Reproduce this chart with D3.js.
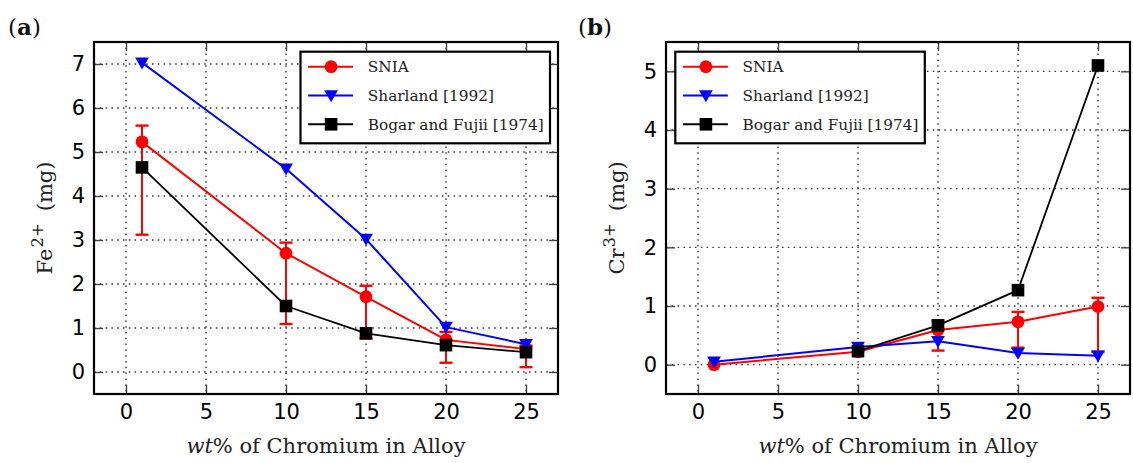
<!DOCTYPE html>
<html>
<head>
<meta charset="utf-8">
<script src="https://cdn.jsdelivr.net/npm/d3@7"></script>
<style>
  html, body { margin: 0; padding: 0; background: #fff; }
  svg { display: block; }
</style>
</head>
<body>
<svg id="chart" width="1133" height="463"></svg>
<script>
// Chromium content of the alloys (wt%)
const chromium = [1, 10, 15, 20, 25];
const xTicks = [0, 5, 10, 15, 20, 25];

// Panel (a): dissolved Fe2+ (mg)
const feTicks = [0, 1, 2, 3, 4, 5, 6, 7];
const feSNIA = [5.23, 2.70, 1.71, 0.73, 0.52];
const feSNIAHigh = [5.60, 2.94, 1.96, 0.91, 0.60];
const feSNIALow = [3.12, 1.09, 0.76, 0.21, 0.11];
const feSharland = [7.03, 4.62, 3.02, 1.02, 0.63];
const feBogar = [4.65, 1.50, 0.88, 0.61, 0.45];

// Panel (b): dissolved Cr3+ (mg)
const crTicks = [0, 1, 2, 3, 4, 5];
const crSNIA = [0.00, 0.22, 0.59, 0.73, 0.99];
const crSNIAHigh = [null, null, 0.75, 0.90, 1.14];
const crSNIALow = [null, null, 0.24, 0.29, 0.22];
const crSharland = [0.05, 0.30, 0.40, 0.20, 0.15];
const crBogar = [null, 0.23, 0.67, 1.27, 5.10];

const seriesNames = ["SNIA", "Sharland [1992]", "Bogar and Fujii [1974]"];
const seriesColors = ["#ff0000", "#0000ff", "#000000"];
const seriesMarkers = ["circle", "triangle", "square"];

const svg = d3.select("#chart");
const SERIF = "'DejaVu Serif', 'Liberation Serif', serif";
const SANS = "'DejaVu Sans', sans-serif";

function marker(sel, kind, color) {
  if (kind === "circle") {
    sel.append("circle").attr("r", 6.4).attr("fill", color);
  } else if (kind === "square") {
    sel.append("rect").attr("x", -6.3).attr("y", -6.3).attr("width", 12.6).attr("height", 12.6).attr("fill", color);
  } else {
    // downward-pointing triangle centred on the point
    sel.append("path").attr("d", "M-6.9,-5.3 L6.9,-5.3 L0,6.7 Z").attr("fill", color);
  }
}

function drawPanel(p) {
  const g = svg.append("g");
  const x = d3.scaleLinear().domain([-2, 27]).range([p.left, p.right]);
  const y = d3.scaleLinear().domain(p.yDomain).range([p.bottom, p.top]);

  // dotted grid
  g.append("g").selectAll("line").data(xTicks).join("line")
    .attr("x1", d => x(d)).attr("x2", d => x(d))
    .attr("y1", p.top).attr("y2", p.bottom)
    .attr("stroke", "#333").attr("stroke-width", 1.4).attr("stroke-dasharray", "1.5,4.3");
  g.append("g").selectAll("line").data(p.yTicks).join("line")
    .attr("x1", p.left).attr("x2", p.right)
    .attr("y1", d => y(d)).attr("y2", d => y(d))
    .attr("stroke", "#333").attr("stroke-width", 1.4).attr("stroke-dasharray", "1.5,4.3");

  // axes with inward ticks on all four sides
  const tickLen = 9;
  const styleAxis = a => {
    a.select(".domain").remove();
    a.selectAll(".tick line").attr("stroke", "#444").attr("stroke-width", 1.4);
    a.selectAll(".tick text").attr("font-family", SANS).attr("font-size", 21).attr("fill", "#000");
  };
  g.append("g").attr("transform", `translate(0,${p.bottom})`)
    .call(d3.axisBottom(x).tickValues(xTicks).tickSize(-tickLen).tickPadding(10).tickFormat(d3.format("d")))
    .call(styleAxis);
  g.append("g").attr("transform", `translate(0,${p.top})`)
    .call(d3.axisTop(x).tickValues(xTicks).tickSize(-tickLen).tickFormat(""))
    .call(styleAxis);
  g.append("g").attr("transform", `translate(${p.left},0)`)
    .call(d3.axisLeft(y).tickValues(p.yTicks).tickSize(-tickLen).tickPadding(9).tickFormat(d3.format("d")))
    .call(styleAxis);
  g.append("g").attr("transform", `translate(${p.right},0)`)
    .call(d3.axisRight(y).tickValues(p.yTicks).tickSize(-tickLen).tickFormat(""))
    .call(styleAxis);

  // SNIA error bars
  const errIdx = chromium.map((c, i) => i).filter(i => p.high[i] != null);
  const eb = g.append("g").attr("stroke", seriesColors[0]).attr("stroke-width", 2);
  eb.selectAll("line.v").data(errIdx).join("line").attr("class", "v")
    .attr("x1", i => x(chromium[i])).attr("x2", i => x(chromium[i]))
    .attr("y1", i => y(p.low[i])).attr("y2", i => y(p.high[i]));
  eb.selectAll("line.hi").data(errIdx).join("line").attr("class", "hi")
    .attr("x1", i => x(chromium[i]) - 6.5).attr("x2", i => x(chromium[i]) + 6.5)
    .attr("y1", i => y(p.high[i])).attr("y2", i => y(p.high[i])).attr("stroke-width", 2.4);
  eb.selectAll("line.lo").data(errIdx).join("line").attr("class", "lo")
    .attr("x1", i => x(chromium[i]) - 6.5).attr("x2", i => x(chromium[i]) + 6.5)
    .attr("y1", i => y(p.low[i])).attr("y2", i => y(p.low[i])).attr("stroke-width", 2.4);

  // series lines and markers
  p.series.forEach((vals, s) => {
    const pts = chromium.map((c, i) => [c, vals[i]]).filter(d => d[1] != null);
    const line = d3.line().x(d => x(d[0])).y(d => y(d[1]));
    g.append("path").datum(pts).attr("d", line)
      .attr("fill", "none").attr("stroke", seriesColors[s])
      .attr("stroke-width", s === 2 ? 1.8 : 2).attr("stroke-linejoin", "round");
    g.append("g").selectAll("g").data(pts).join("g")
      .attr("transform", d => `translate(${x(d[0])},${y(d[1])})`)
      .each(function () { marker(d3.select(this), seriesMarkers[s], seriesColors[s]); });
  });

  // frame
  g.append("rect").attr("x", p.left).attr("y", p.top)
    .attr("width", p.right - p.left).attr("height", p.bottom - p.top)
    .attr("fill", "none").attr("stroke", "#000").attr("stroke-width", 2.2);

  // legend
  const lg = g.append("g").attr("transform", `translate(${p.legendX},${p.top + 9.7})`);
  lg.append("rect").attr("x", 0).attr("y", 0).attr("width", 249.5).attr("height", 91.6)
    .attr("fill", "#fff").attr("stroke", "#000").attr("stroke-width", 2.2);
  seriesNames.forEach((name, s) => {
    const ey = 15 + s * 28.8;
    lg.append("line").attr("x1", 7.6).attr("x2", 52.6).attr("y1", ey).attr("y2", ey)
      .attr("stroke", seriesColors[s]).attr("stroke-width", 2);
    marker(lg.append("g").attr("transform", `translate(30.6,${ey})`), seriesMarkers[s], seriesColors[s]);
    lg.append("text").attr("x", 67.3).attr("y", ey + 5.5)
      .attr("font-family", SERIF).attr("font-size", 15.3).attr("fill", "#222").text(name);
  });

  // axis titles
  const xt = g.append("text").attr("x", (p.left + p.right) / 2).attr("y", 453)
    .attr("text-anchor", "middle").attr("font-family", SERIF).attr("font-size", 21).attr("fill", "#222");
  xt.append("tspan").attr("font-style", "italic").text("wt");
  xt.append("tspan").text("% of Chromium in Alloy");

  const yt = g.append("text")
    .attr("transform", `translate(${p.yLabelX},${(p.top + p.bottom) / 2}) rotate(-90)`)
    .attr("text-anchor", "middle").attr("dy", "0.35em")
    .attr("font-family", SERIF).attr("font-size", 21).attr("fill", "#222");
  yt.append("tspan").text(p.ion);
  yt.append("tspan").attr("font-size", 16.5).attr("dx", 1).attr("dy", "-0.55em").text(p.charge);
  yt.append("tspan").attr("dx", 12).attr("dy", "0.43em").text("(mg)");

  // panel tag
  const tag = svg.append("text").attr("x", p.tagX).attr("y", 35)
    .attr("font-family", SERIF).attr("font-size", 23).attr("fill", "#111");
  tag.append("tspan").text("(");
  tag.append("tspan").attr("font-weight", "bold").text(p.tag);
  tag.append("tspan").text(")");
}

drawPanel({
  left: 94, right: 558, top: 42, bottom: 394,
  yDomain: [-0.5, 7.5], yTicks: feTicks,
  series: [feSNIA, feSharland, feBogar],
  high: feSNIAHigh, low: feSNIALow,
  legendX: 300.5, yLabelX: 45, ion: "Fe", charge: "2+", tag: "a", tagX: 8
});

drawPanel({
  left: 666, right: 1130, top: 42, bottom: 394,
  yDomain: [-0.5, 5.5], yTicks: crTicks,
  series: [crSNIA, crSharland, crBogar],
  high: crSNIAHigh, low: crSNIALow,
  legendX: 675.3, yLabelX: 617, ion: "Cr", charge: "3+", tag: "b", tagX: 578
});
</script>
</body>
</html>
